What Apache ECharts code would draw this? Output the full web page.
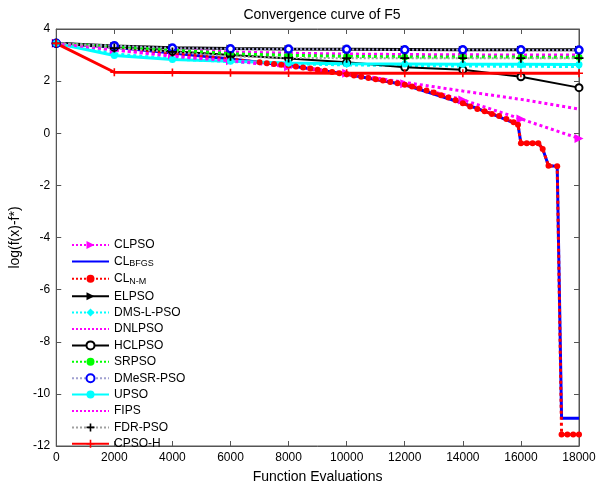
<!DOCTYPE html>
<html>
<head>
<meta charset="utf-8">
<script src="https://cdn.jsdelivr.net/npm/echarts@6/dist/echarts.min.js"></script>
<style>
  html, body { margin: 0; padding: 0; background: #fff; }
  #main { width: 604px; height: 489px; }
</style>
</head>
<body>
<div id="main"></div>
<script>
// Data
const evals = [0, 2000, 4000, 6000, 8000, 10000, 12000, 14000, 16000, 18000];

const clpso = [3.45, 3.2, 3.0, 2.78, 2.55, 2.3, 1.9, 1.28, 0.55, -0.2];
const elpso = [3.45, 3.35, 3.28, 3.25, 3.23, 3.22, 3.21, 3.2, 3.2, 3.2];
const dmsl = [3.45, 3.05, 2.85, 2.75, 2.67, 2.62, 2.6, 2.58, 2.57, 2.56];
const dnlpso = [3.45, 3.3, 3.2, 3.12, 3.07, 3.04, 3.02, 3.01, 3.0, 3.0];
const hclpso = [3.45, 3.3, 3.15, 3.0, 2.87, 2.72, 2.53, 2.44, 2.17, 1.75];
const srpso = [3.45, 3.32, 3.2, 3.05, 2.99, 2.95, 2.93, 2.93, 2.92, 2.92];
const dmesr = [3.45, 3.36, 3.27, 3.24, 3.23, 3.22, 3.2, 3.2, 3.2, 3.19];
const upso = [3.45, 2.98, 2.83, 2.76, 2.7, 2.67, 2.66, 2.65, 2.65, 2.64];
const fips = [3.45, 3.2, 2.95, 2.78, 2.58, 2.3, 1.95, 1.62, 1.3, 0.93];
const fdr = [3.45, 3.27, 3.12, 2.95, 2.89, 2.88, 2.88, 2.88, 2.88, 2.88];
const cpsoh = [3.45, 2.34, 2.33, 2.32, 2.31, 2.3, 2.3, 2.3, 2.3, 2.3];

const nmX = [0, 2000, 4000, 6000, 7000, 7250, 7500, 7750, 8000, 8250, 8500, 8750, 9000,
  9250, 9500, 9750, 10000, 10250, 10500, 10750, 11000, 11250, 11500, 11750, 12000,
  12250, 12500, 12750, 13000, 13250, 13500, 13750, 14000, 14250, 14500, 14750, 15000,
  15250, 15500, 15750, 15900, 16000, 16200, 16400, 16600, 16750, 16950, 17250, 17400,
  17600, 17800, 18000];
const nmY = [3.45, 3.3, 3.08, 2.85, 2.72, 2.69, 2.66, 2.63, 2.6, 2.56, 2.52, 2.48, 2.44,
  2.4, 2.35, 2.3, 2.26, 2.22, 2.17, 2.12, 2.07, 2.02, 1.97, 1.92, 1.86,
  1.79, 1.72, 1.64, 1.56, 1.46, 1.37, 1.27, 1.15, 1.03, 0.93, 0.84, 0.74,
  0.66, 0.55, 0.42, 0.33, -0.38, -0.38, -0.38, -0.38, -0.6, -1.25, -1.27, -11.56,
  -11.56, -11.56, -11.56];

const bfgsX = [0, 2000, 4000, 6000, 8000, 10000, 12000, 14000, 15000, 15900, 16000,
  16600, 16750, 16950, 17250, 17400, 18000];
const bfgsY = [3.45, 3.3, 3.08, 2.85, 2.6, 2.26, 1.86, 1.15, 0.74, 0.33, -0.38,
  -0.38, -0.6, -1.25, -1.27, -10.94, -10.94];

const chart = echarts.init(document.getElementById("main"));

const plus = "path://M-1,-5L1,-5L1,-1L5,-1L5,1L1,1L1,5L-1,5L-1,1L-5,1L-5,-1L-1,-1Z";

function pairs(xs, ys) {
  return xs.map((x, i) => [x, ys[i]]);
}

function line(name, data, color, type, width, symbol, size, extra) {
  return Object.assign({
    name: name,
    type: "line",
    data: data,
    showSymbol: symbol !== "none",
    symbol: symbol,
    symbolSize: size,
    lineStyle: { color: color, type: type, width: width },
    itemStyle: { color: color },
    animation: false,
    z: 2,
  }, extra || {});
}

const series = [
  line("CLPSO", pairs(evals, clpso), "#ff00ff", "dotted", 3, "triangle", 9, { symbolRotate: -90 }),
  line("CL_BFGS", pairs(bfgsX, bfgsY), "#0000ff", "solid", 3, "none", 0),
  line("CL_N-M", pairs(nmX, nmY), "#ff0000", "dotted", 3, "circle", 6),
  line("ELPSO", pairs(evals, elpso), "#000000", "solid", 3, "triangle", 8, { symbolRotate: -90 }),
  line("DMS-L-PSO", pairs(evals, dmsl), "#00ffff", "dotted", 3, "diamond", 6),
  line("DNLPSO", pairs(evals, dnlpso), "#ff00ff", "dotted", 3, "none", 0),
  line("HCLPSO", pairs(evals, hclpso), "#000000", "solid", 2, "circle", 7,
    { itemStyle: { color: "#fff", borderColor: "#000", borderWidth: 2 } }),
  line("SRPSO", pairs(evals, srpso), "#00ff00", "dotted", 3, "circle", 7),
  line("DMeSR-PSO", pairs(evals, dmesr), "#a0a0d0", "dotted", 2, "circle", 7,
    { itemStyle: { color: "#fff", borderColor: "#0000ff", borderWidth: 2.5 } }),
  line("UPSO", pairs(evals, upso), "#00ffff", "solid", 3, "circle", 7),
  line("FIPS", pairs(evals, fips), "#ff00ff", "dotted", 3, "none", 0),
  line("FDR-PSO", pairs(evals, fdr), "#a0a0a0", "dotted", 2, plus, 9,
    { itemStyle: { color: "#000" } }),
  line("CPSO-H", pairs(evals, cpsoh), "#ff0000", "solid", 3, plus, 8),
];

// series drawn without markers keep a plain line in the legend
const noMarker = ["CL_BFGS", "DNLPSO", "FIPS"];
const legendData = series.map((s) =>
  noMarker.includes(s.name)
    ? { name: s.name, itemStyle: { color: "transparent", borderColor: "transparent", opacity: 0 } }
    : { name: s.name }
);

const option = {
  backgroundColor: "#fff",
  textStyle: { fontFamily: "Liberation Sans, Arial, sans-serif" },
  title: {
    text: "Convergence curve of F5",
    left: 317,
    textAlign: "center",
    top: 3,
    textStyle: { fontSize: 14, fontWeight: "normal", color: "#000" },
  },
  grid: {
    left: 55,
    right: 25,
    top: 29,
    bottom: 39,
    show: true,
    borderColor: "#555",
    borderWidth: 1,
  },
  legend: {
    data: legendData,
    orient: "vertical",
    left: 66,
    top: 234,
    itemWidth: 37,
    itemHeight: 10,
    itemGap: 4.4,
    textStyle: {
      fontSize: 12,
      color: "#000",
      rich: {
        m: { fontSize: 12, color: "#000" },
        s: { fontSize: 9, color: "#000", verticalAlign: "bottom", padding: [5, 0, 0, 0] },
      },
    },
    formatter: (name) => {
      if (name === "CL_BFGS") return "{m|CL}{s|BFGS}";
      if (name === "CL_N-M") return "{m|CL}{s|N-M}";
      return name;
    },
  },
  xAxis: [
    {
      type: "value",
      min: 0,
      max: 18000,
      interval: 2000,
      name: "Function Evaluations",
      nameLocation: "middle",
      nameGap: 24,
      nameTextStyle: { fontSize: 14, color: "#000" },
      axisLine: { show: true, onZero: false, lineStyle: { color: "#555" } },
      axisTick: { inside: true, length: 5, lineStyle: { color: "#555" } },
      axisLabel: { fontSize: 12, color: "#000", margin: 6, formatter: (v) => String(v) },
      splitLine: { show: false },
    },
    {
      type: "value",
      position: "top",
      min: 0,
      max: 18000,
      interval: 2000,
      axisLine: { show: true, onZero: false, lineStyle: { color: "#555" } },
      axisTick: { inside: true, length: 5, lineStyle: { color: "#555" } },
      axisLabel: { show: false },
      splitLine: { show: false },
    },
  ],
  yAxis: [
    {
      type: "value",
      min: -12,
      max: 4,
      interval: 2,
      name: "log(f(x)-f*)",
      nameLocation: "middle",
      nameGap: 30,
      nameTextStyle: { fontSize: 14, color: "#000" },
      axisLine: { show: true, onZero: false, lineStyle: { color: "#555" } },
      axisTick: { inside: true, length: 5, lineStyle: { color: "#555" } },
      axisLabel: { fontSize: 12, color: "#000", margin: 6 },
      splitLine: { show: false },
    },
    {
      type: "value",
      position: "right",
      min: -12,
      max: 4,
      interval: 2,
      axisLine: { show: true, onZero: false, lineStyle: { color: "#555" } },
      axisTick: { inside: true, length: 5, lineStyle: { color: "#555" } },
      axisLabel: { show: false },
      splitLine: { show: false },
    },
  ],
  series: series,
};

chart.setOption(option);
</script>
</body>
</html>
